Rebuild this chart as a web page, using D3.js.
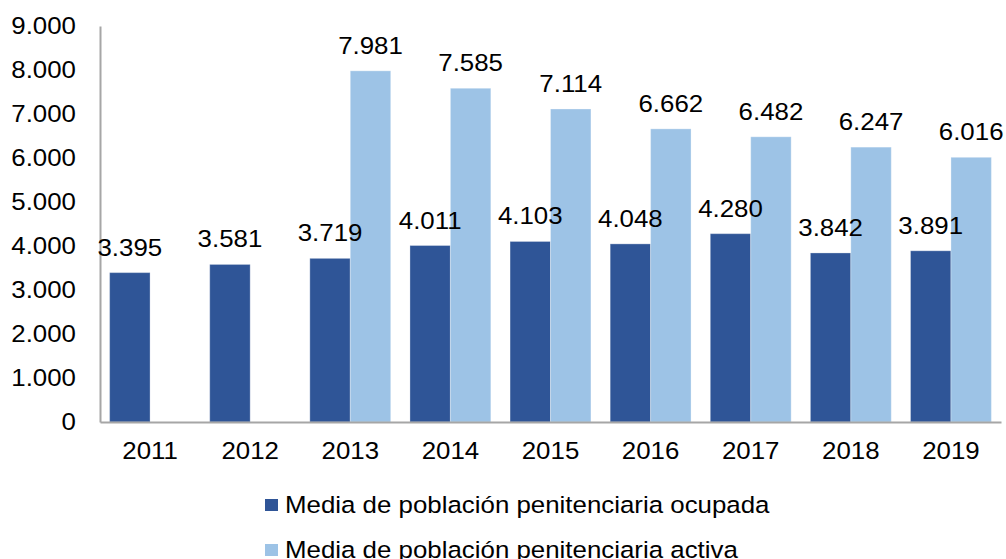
<!DOCTYPE html>
<html>
<head>
<meta charset="utf-8">
<script src="https://cdn.jsdelivr.net/npm/d3@7.9.0/dist/d3.min.js"></script>
<style>
  body { margin: 0; background: #fff; }
  svg { display: block; font-family: "Liberation Sans", Arial, sans-serif; }
</style>
</head>
<body>
<svg id="chart" width="1006" height="559"></svg>
<script>
const years = ['2011', '2012', '2013', '2014', '2015', '2016', '2017', '2018', '2019'];
const ocupada = [3395, 3581, 3719, 4011, 4103, 4048, 4280, 3842, 3891];
const activa = [null, null, 7981, 7585, 7114, 6662, 6482, 6247, 6016];
const yTicks = [0, 1000, 2000, 3000, 4000, 5000, 6000, 7000, 8000, 9000];
const seriesNames = ['Media de población penitenciaria ocupada', 'Media de población penitenciaria activa'];
const colors = ['#2F5597', '#9DC3E6'];

const fontSize = 23.3;
const sx = 1.11; // text in the reference is a bit wide

const fmt = v => d3.format(',')(v).replace(/,/g, '.');

const svg = d3.select('#chart');

const x0 = d3.scaleBand().domain(years).range([100, 1001]);
const inner = d3.scaleBand().domain([0, 1]).range([0, x0.bandwidth()]).paddingOuter(0.238).paddingInner(0);

const y = d3.scaleLinear().domain([0, 9000]).range([422, 26]);

// stretched text helper
function addText(g, tx, ty, str, anchor) {
  g.append('text')
    .attr('transform', `translate(${tx},${ty}) scale(${sx},1)`)
    .attr('text-anchor', anchor)
    .attr('font-size', fontSize)
    .attr('fill', '#000')
    .text(str);
}

// bars
const series = [ocupada, activa];
series.forEach((vals, si) => {
  const g = svg.append('g');
  g.selectAll('rect')
    .data(years.map((yr, i) => ({ yr, v: vals[i] })).filter(d => d.v != null))
    .join('rect')
    .attr('x', d => x0(d.yr) + inner(si))
    .attr('width', inner.bandwidth())
    .attr('y', d => y(d.v))
    .attr('height', d => y(0) - y(d.v))
    .attr('fill', colors[si])
    .attr('stroke', 'rgba(255,255,255,0.3)')
    .attr('stroke-width', 1);
});

// y axis
const yAxis = svg.append('g')
  .attr('transform', 'translate(100,0)')
  .call(d3.axisLeft(y).tickValues(yTicks).tickSize(0).tickFormat(() => ''));
yAxis.select('.domain').attr('stroke', '#a6a6a6').attr('stroke-width', 2);
yTicks.forEach(t => addText(svg, 76, y(t) + 8, fmt(t), 'end'));

// x axis
const xAxis = svg.append('g')
  .attr('transform', `translate(0,${y(0)})`)
  .call(d3.axisBottom(x0).tickSize(0).tickSizeOuter(0).tickFormat(() => ''));
xAxis.select('.domain').attr('stroke', '#a6a6a6').attr('stroke-width', 2);
years.forEach(yr => addText(svg, x0(yr) + x0.bandwidth() / 2, 459, yr, 'middle'));

// value labels
series.forEach((vals, si) => {
  years.forEach((yr, i) => {
    if (vals[i] == null) return;
    const cx = x0(yr) + inner(si) + inner.bandwidth() / 2;
    addText(svg, cx, y(vals[i]) - 17, fmt(vals[i]), 'middle');
  });
});

// legend
seriesNames.forEach((name, i) => {
  const ly = 505 + i * 45;
  svg.append('rect')
    .attr('x', 265).attr('y', ly - 6)
    .attr('width', 13).attr('height', 12)
    .attr('fill', colors[i]);
  addText(svg, 285, ly + 8, name, 'start');
});
</script>
</body>
</html>
